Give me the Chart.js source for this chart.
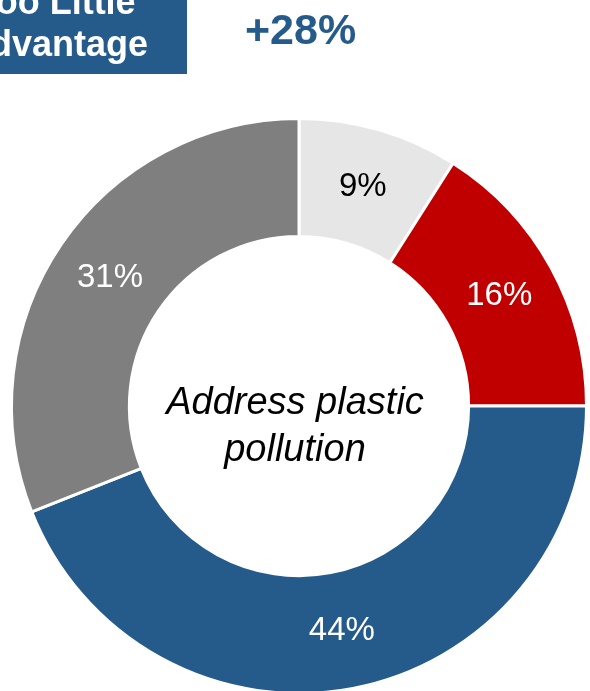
<!DOCTYPE html>
<html lang="en">
<head>
  <meta charset="UTF-8">
  <title>Address plastic pollution</title>
  <script src="https://cdn.jsdelivr.net/npm/chart.js"></script>
  <style>
    html, body { margin: 0; padding: 0; background: #fff; overflow: hidden; width: 590px; height: 691px; }
    .wrap { position: relative; width: 590px; height: 691px; overflow: hidden; font-family: "Liberation Sans", Arial, sans-serif; }
    #chart { position: absolute; left: 0; top: 0; }
    .tag { position: absolute; left: -60px; top: -30px; width: 247px; height: 104px; background: #255B8A; }
    .tag div { position: absolute; left: -34px; width: 300px; top: 11px; text-align: center;
               color: #fff; font-weight: bold; font-size: 36px; line-height: 42px; white-space: nowrap; }
    .delta { position: absolute; left: 245px; top: 8px; color: #255B8A; font-weight: bold; font-size: 43px; line-height: 43px; }
    .center { position: absolute; left: 145px; width: 300px; top: 378px; text-align: center;
              font-style: italic; font-size: 38px; line-height: 47px; color: #000; white-space: nowrap; }
  </style>
</head>
<body>
  <div class="wrap">
    <canvas id="chart" width="590" height="700"></canvas>
    <div class="tag"><div>Too Little<br>Advantage</div></div>
    <div class="delta">+28%</div>
    <div class="center">Address plastic<br>pollution</div>
  </div>

  <script>
    // chart data
    const categories = ['Too Little', 'Too Much', 'Right Amount', 'Don\'t Know'];
    const shares = [9, 16, 44, 31];
    const sliceColors = ['#E7E6E6', '#C00000', '#255B8A', '#7F7F7F'];
    const labelColors = ['#000000', '#ffffff', '#ffffff', '#ffffff'];

    // draw the percent labels in the middle of each slice
    const sliceLabels = {
      id: 'sliceLabels',
      afterDatasetsDraw(chart) {
        const ctx = chart.ctx;
        const meta = chart.getDatasetMeta(0);
        ctx.save();
        ctx.font = '33px "Liberation Sans", Arial, sans-serif';
        ctx.textAlign = 'center';
        ctx.textBaseline = 'middle';
        meta.data.forEach((arc, i) => {
          const p = arc.tooltipPosition();
          ctx.fillStyle = labelColors[i];
          ctx.fillText(shares[i] + '%', p.x, p.y);
        });
        ctx.restore();
      }
    };

    const ctx = document.getElementById('chart').getContext('2d');
    new Chart(ctx, {
      type: 'doughnut',
      data: {
        labels: categories,
        datasets: [{
          data: shares,
          backgroundColor: sliceColors,
          borderColor: '#ffffff',
          borderWidth: 3,
          hoverOffset: 0
        }]
      },
      options: {
        responsive: false,
        animation: false,
        cutout: '59%',
        layout: { padding: { left: 10, right: 2, top: 117, bottom: 5 } },
        plugins: {
          legend: { display: false },
          tooltip: { enabled: false }
        }
      },
      plugins: [sliceLabels]
    });
  </script>
</body>
</html>
